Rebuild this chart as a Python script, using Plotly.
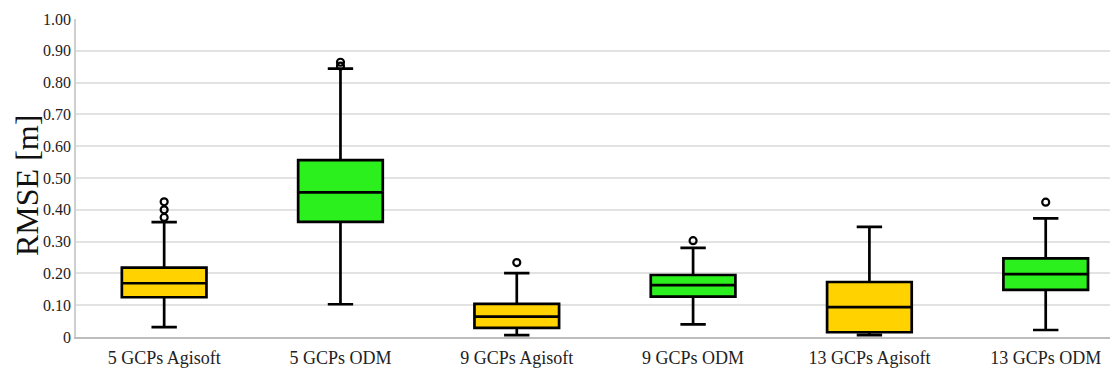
import plotly.graph_objects as go

categories = ["5 GCPs Agisoft", "5 GCPs ODM", "9 GCPs Agisoft", "9 GCPs ODM", "13 GCPs Agisoft", "13 GCPs ODM"]

agisoft_cats = ["5 GCPs Agisoft", "9 GCPs Agisoft", "13 GCPs Agisoft"]
agisoft_lower = [0.031, 0.006, 0.006]
agisoft_q1 = [0.125, 0.029, 0.015]
agisoft_median = [0.169, 0.064, 0.094]
agisoft_q3 = [0.218, 0.104, 0.173]
agisoft_upper = [0.361, 0.201, 0.346]

odm_cats = ["5 GCPs ODM", "9 GCPs ODM", "13 GCPs ODM"]
odm_lower = [0.103, 0.040, 0.022]
odm_q1 = [0.362, 0.127, 0.148]
odm_median = [0.455, 0.163, 0.198]
odm_q3 = [0.556, 0.195, 0.247]
odm_upper = [0.844, 0.280, 0.373]

outlier_cats = ["5 GCPs Agisoft", "5 GCPs Agisoft", "5 GCPs Agisoft",
                "5 GCPs ODM", "5 GCPs ODM",
                "9 GCPs Agisoft", "9 GCPs ODM", "13 GCPs ODM"]
outlier_vals = [0.376, 0.400, 0.425, 0.852, 0.864, 0.234, 0.303, 0.424]

ytick_vals = [0, 0.1, 0.2, 0.3, 0.4, 0.5, 0.6, 0.7, 0.8, 0.9, 1.0]
ytick_text = ["0", "0.10", "0.20", "0.30", "0.40", "0.50", "0.60", "0.70", "0.80", "0.90", "1.00"]

FONT = "Liberation Serif"

fig = go.Figure()
fig.add_trace(go.Box(
    x=agisoft_cats, q1=agisoft_q1, median=agisoft_median, q3=agisoft_q3,
    lowerfence=agisoft_lower, upperfence=agisoft_upper,
    fillcolor="#FFD200", line=dict(color="black", width=2.7),
    width=0.48, whiskerwidth=0.3, boxpoints=False, showlegend=False,
))
fig.add_trace(go.Box(
    x=odm_cats, q1=odm_q1, median=odm_median, q3=odm_q3,
    lowerfence=odm_lower, upperfence=odm_upper,
    fillcolor="#2BF01E", line=dict(color="black", width=2.7),
    width=0.48, whiskerwidth=0.3, boxpoints=False, showlegend=False,
))
fig.add_trace(go.Scatter(
    x=outlier_cats, y=outlier_vals, mode="markers",
    marker=dict(symbol="circle-open", size=7, color="black", line=dict(width=2.2, color="black")),
    showlegend=False,
))

fig.update_layout(
    width=1118, height=374,
    margin=dict(l=68, r=8, t=11, b=45),
    paper_bgcolor="white", plot_bgcolor="white",
    boxmode="overlay",
    font=dict(family=FONT, color="#222"),
    annotations=[dict(
        text="RMSE [m]", textangle=-90, showarrow=False,
        xref="paper", yref="paper",
        x=-68 / 1042, y=(337 - 186) / 318,
        xanchor="left", yanchor="middle", borderpad=0,
        font=dict(size=32, family=FONT, color="#111"),
    )],
)
fig.update_xaxes(
    type="category", categoryorder="array", categoryarray=categories,
    range=[-0.5, 5.41], automargin=False,
    showgrid=False, showline=True, linecolor="#bdbdbd", linewidth=2,
    tickfont=dict(size=18, family=FONT, color="#222"), ticks="",
    ticklabelstandoff=3,
)
fig.update_yaxes(
    range=[0, 1.0], tickvals=ytick_vals, ticktext=ytick_text, automargin=False,
    showgrid=True, gridcolor="#e2e2e2", gridwidth=1.5,
    showline=True, linecolor="#cfcfcf", linewidth=1.5,
    zeroline=False, ticks="",
    tickfont=dict(size=16, family=FONT, color="#222"),
)

fig.write_html("out.html")
